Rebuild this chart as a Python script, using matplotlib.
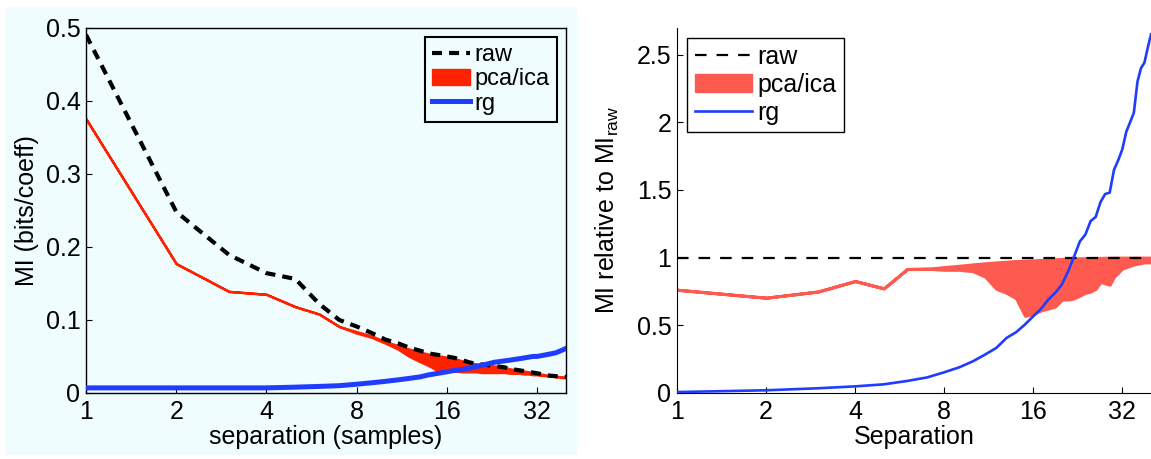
import numpy as np
import matplotlib
matplotlib.use("Agg")
import matplotlib.pyplot as plt
from matplotlib.patches import Rectangle, Patch
from matplotlib.lines import Line2D

plt.rcParams['font.family'] = ['Liberation Sans', 'DejaVu Sans']
plt.rcParams['mathtext.default'] = 'regular'

# separation in samples (1..40)
sep = list(range(1, 41))

# ---- left panel: absolute MI (bits/coeff) ----
raw_abs = [0.490, 0.248, 0.189, 0.164, 0.156, 0.122, 0.100, 0.091, 0.082, 0.073,
           0.068, 0.062, 0.058, 0.054, 0.052, 0.050, 0.048, 0.045, 0.042, 0.040,
           0.039, 0.038, 0.037, 0.036, 0.035, 0.033, 0.032, 0.031, 0.030, 0.029,
           0.028, 0.027, 0.026, 0.025, 0.024, 0.0235, 0.023, 0.0225, 0.022, 0.022]
pca_hi_abs = [0.375, 0.177, 0.139, 0.135, 0.118, 0.108, 0.091, 0.084, 0.078, 0.070,
              0.065, 0.060, 0.056, 0.053, 0.051, 0.049, 0.047, 0.044, 0.041, 0.040,
              0.039, 0.038, 0.037, 0.036, 0.035, 0.033, 0.032, 0.031, 0.030, 0.029,
              0.028, 0.027, 0.026, 0.025, 0.024, 0.0235, 0.023, 0.0225, 0.022, 0.022]
pca_lo_abs = [0.375, 0.177, 0.139, 0.135, 0.118, 0.108, 0.091, 0.082, 0.076, 0.068,
              0.060, 0.050, 0.043, 0.037, 0.030, 0.030, 0.030, 0.029, 0.029, 0.029,
              0.028, 0.028, 0.028, 0.028, 0.028, 0.027, 0.027, 0.027, 0.026, 0.026,
              0.025, 0.025, 0.024, 0.024, 0.023, 0.023, 0.022, 0.022, 0.021, 0.021]
rg_abs = [0.007, 0.007, 0.007, 0.007, 0.008, 0.009, 0.010, 0.012, 0.014, 0.016,
          0.018, 0.020, 0.022, 0.025, 0.027, 0.029, 0.031, 0.032, 0.034, 0.036,
          0.038, 0.040, 0.042, 0.043, 0.044, 0.045, 0.046, 0.047, 0.048, 0.049,
          0.050, 0.050, 0.051, 0.052, 0.053, 0.054, 0.055, 0.057, 0.059, 0.061]

# ---- right panel: MI relative to raw ----
raw_rel = [1.0] * 40
pca_hi_rel = [0.763, 0.704, 0.750, 0.827, 0.773, 0.916, 0.918, 0.930, 0.940, 0.950,
              0.958, 0.965, 0.970, 0.975, 0.978, 0.980, 0.983, 0.985, 0.988, 0.990,
              0.992, 0.994, 0.995, 0.996, 0.997, 0.998, 0.998, 0.999, 0.999, 1.0,
              1.0, 1.0, 1.0, 1.0, 1.0, 1.0, 1.0, 1.0, 1.0, 1.0]
pca_lo_rel = [0.763, 0.704, 0.750, 0.827, 0.773, 0.916, 0.918, 0.910, 0.910, 0.900,
              0.860, 0.770, 0.740, 0.700, 0.570, 0.585, 0.610, 0.625, 0.640, 0.690,
              0.690, 0.700, 0.720, 0.740, 0.750, 0.770, 0.820, 0.810, 0.800, 0.860,
              0.890, 0.920, 0.930, 0.940, 0.950, 0.955, 0.960, 0.965, 0.965, 0.965]
rg_rel = [0.007, 0.020, 0.035, 0.049, 0.064, 0.089, 0.115, 0.153, 0.190, 0.234,
          0.284, 0.333, 0.407, 0.449, 0.506, 0.567, 0.622, 0.691, 0.741, 0.802,
          0.900, 1.010, 1.120, 1.170, 1.270, 1.300, 1.410, 1.470, 1.480, 1.650,
          1.720, 1.800, 1.930, 2.000, 2.070, 2.300, 2.400, 2.440, 2.550, 2.650]

xticks = [1, 2, 4, 8, 16, 32]

RED_L = "#ff2200"
RED_R = "#ff5a50"
BLUE = "#1f3cff"
BG = "#effdff"
FS = 18

fig = plt.figure(figsize=(11.51, 4.59), dpi=100)
# light cyan panel behind the left plot
fig.patches.append(Rectangle((5 / 1151, 4 / 459), 572 / 1151, 448 / 459,
                             transform=fig.transFigure, facecolor=BG,
                             edgecolor="none", zorder=-1))

def style_axis(ax):
    ax.set_xscale("log", base=2)
    ax.set_xlim(1, 40)
    ax.set_xticks(xticks)
    ax.set_xticklabels([str(t) for t in xticks])
    ax.minorticks_off()
    ax.tick_params(direction="in", length=4, width=0.8, labelsize=FS,
                   top=False, right=False)
    ax.tick_params(axis="x", pad=5)
    ax.tick_params(axis="y", pad=4)

# ================== left ==================
ax1 = fig.add_axes([86 / 1151, 66 / 459, 480 / 1151, 365.5 / 459])
ax1.set_facecolor(BG)
ax1.fill_between(sep, pca_lo_abs, pca_hi_abs, facecolor=RED_L, edgecolor=RED_L,
                 linewidth=1.7, zorder=1)
ax1.plot(sep, raw_abs, color="black", linewidth=3.0, dashes=(2.4, 1.7), zorder=2)
ax1.plot(sep, rg_abs, color=BLUE, linewidth=3.6, zorder=3)
ax1.set_ylim(0, 0.5)
ax1.set_yticks([0, 0.1, 0.2, 0.3, 0.4, 0.5])
ax1.set_yticklabels(["0", "0.1", "0.2", "0.3", "0.4", "0.5"])
style_axis(ax1)
ax1.set_xlabel("separation (samples)", fontsize=FS, labelpad=1)
ax1.set_ylabel("MI (bits/coeff)", fontsize=FS, labelpad=5)
for s in ax1.spines.values():
    s.set_linewidth(1.0)

h1 = [Line2D([], [], color="black", linewidth=3.0, dashes=(2.4, 1.7)),
      Patch(facecolor=RED_L, edgecolor=RED_L),
      Line2D([], [], color=BLUE, linewidth=3.6)]
leg1 = ax1.legend(h1, ["raw", "pca/ica", "rg"], loc="upper right", fontsize=17,
                  fancybox=False, edgecolor="black", framealpha=1,
                  facecolor=BG, handlelength=1.6, handletextpad=0.2,
                  labelspacing=0.1, borderpad=0.3, borderaxespad=0.4)
leg1.get_frame().set_linewidth(1.5)

# ================== right ==================
ax2 = fig.add_axes([677 / 1151, 66 / 459, 474 / 1151, 365.5 / 459])
ax2.fill_between(sep, pca_lo_rel, pca_hi_rel, facecolor=RED_R, edgecolor=RED_R,
                 linewidth=2.2, zorder=1)
ax2.plot(sep, raw_rel, color="black", linewidth=1.6, dashes=(5.2, 4.5), zorder=2)
ax2.plot(sep, rg_rel, color=BLUE, linewidth=1.9, zorder=3)
ax2.set_ylim(0, 2.7)
ax2.set_yticks([0, 0.5, 1, 1.5, 2, 2.5])
ax2.set_yticklabels(["0", "0.5", "1", "1.5", "2", "2.5"])
style_axis(ax2)
ax2.spines["top"].set_visible(False)
ax2.spines["right"].set_visible(False)
ax2.set_xlabel("Separation", fontsize=FS, labelpad=1)
ax2.set_ylabel("MI relative to MI$_{raw}$", fontsize=FS, labelpad=11)

h2 = [Line2D([], [], color="black", linewidth=1.6, dashes=(5.2, 4.5)),
      Patch(facecolor=RED_R, edgecolor=RED_R),
      Line2D([], [], color=BLUE, linewidth=1.9)]
leg2 = ax2.legend(h2, ["raw", "pca/ica", "rg"], loc="upper left", fontsize=18,
                  fancybox=False, edgecolor="black", framealpha=1,
                  handlelength=2.3, handletextpad=0.2, labelspacing=0.15,
                  borderpad=0.3, borderaxespad=0.4)
leg2.get_frame().set_linewidth(1.0)

fig.savefig("out.png", dpi=100)
